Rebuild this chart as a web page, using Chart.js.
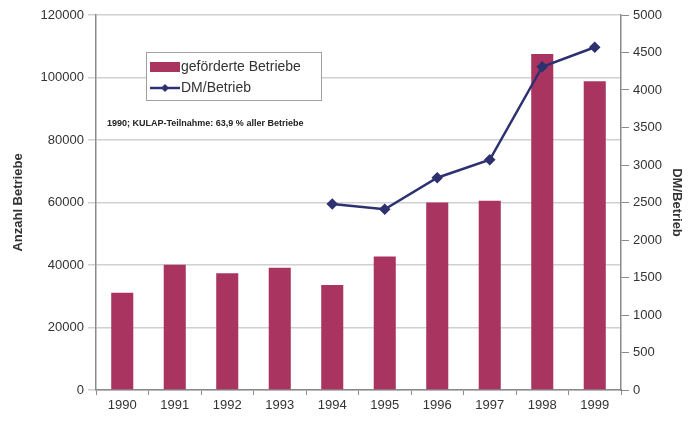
<!DOCTYPE html>
<html>
<head>
<meta charset="utf-8">
<script src="https://cdn.jsdelivr.net/npm/chart.js@4"></script>
<style>
    body { margin: 0; background: #fff; }
    #wrap { width: 688px; height: 421px; }
</style>
</head>
<body>
<div id="wrap"><canvas id="chart"></canvas></div>
<script>
const years = ["1990", "1991", "1992", "1993", "1994", "1995", "1996", "1997", "1998", "1999"];
const betriebe = [31100, 40100, 37400, 39100, 33600, 42700, 60000, 60600, 107500, 98800];
const dmProBetrieb = [null, null, null, null, 2480, 2410, 2830, 3070, 4310, 4570];
const leftTicks = [0, 20000, 40000, 60000, 80000, 100000, 120000];
const rightTicks = [0, 500, 1000, 1500, 2000, 2500, 3000, 3500, 4000, 4500, 5000];
const noteText = "1990; KULAP-Teilnahme: 63,9 % aller Betriebe";

const barColor = "#a8345f";
const lineColor = "#2e3170";
const axisColor = "#8a8a8a";
const textColor = "#333333";
const font = "Liberation Sans, Arial, sans-serif";

const overlayPlugin = {
    id: "overlay",
    afterDraw(chart) {
        const ctx = chart.ctx;
        ctx.save();

        // legend box
        ctx.fillStyle = "#ffffff";
        ctx.fillRect(146, 52, 175, 48);
        ctx.strokeStyle = "#a0a0a0";
        ctx.lineWidth = 1;
        ctx.strokeRect(146.5, 52.5, 175, 48);

        ctx.fillStyle = barColor;
        ctx.fillRect(150, 62, 30, 10);

        ctx.strokeStyle = lineColor;
        ctx.lineWidth = 2.5;
        ctx.beginPath();
        ctx.moveTo(150, 88);
        ctx.lineTo(180, 88);
        ctx.stroke();
        ctx.fillStyle = lineColor;
        ctx.beginPath();
        ctx.moveTo(165, 84);
        ctx.lineTo(169, 88);
        ctx.lineTo(165, 92);
        ctx.lineTo(161, 88);
        ctx.closePath();
        ctx.fill();

        ctx.fillStyle = textColor;
        ctx.font = `14px ${font}`;
        ctx.textBaseline = "middle";
        ctx.fillText("geförderte Betriebe", 181, 67);
        ctx.fillText("DM/Betrieb", 181, 88);

        // note
        ctx.font = `bold 9px ${font}`;
        ctx.fillStyle = "#222";
        ctx.fillText(noteText, 107, 124, 242);

        ctx.restore();
    },
};

const plainTick = (value) => String(value);

new Chart(document.getElementById("chart"), {
    data: {
        labels: years,
        datasets: [
            {
                type: "line",
                label: "DM/Betrieb",
                data: dmProBetrieb,
                yAxisID: "y1",
                borderColor: lineColor,
                backgroundColor: lineColor,
                borderWidth: 2.5,
                pointStyle: "rectRot",
                pointRadius: 4,
                tension: 0,
                spanGaps: false,
            },
            {
                type: "bar",
                label: "geförderte Betriebe",
                data: betriebe,
                yAxisID: "y",
                backgroundColor: barColor,
                barPercentage: 0.42,
                categoryPercentage: 1,
            },
        ],
    },
    options: {
        responsive: true,
        maintainAspectRatio: false,
        animation: false,
        layout: { padding: { top: 15, left: 0, right: 0, bottom: 0 } },
        plugins: {
            legend: { display: false },
            tooltip: { enabled: false },
        },
        scales: {
            x: {
                offset: true,
                grid: {
                    offset: true,
                    drawOnChartArea: false,
                    color: axisColor,
                    tickLength: 5,
                },
                border: { color: axisColor, width: 1.5 },
                ticks: { color: textColor, font: { family: font, size: 13 }, padding: 3 },
                afterFit(scale) { scale.height = 31; },
            },
            y: {
                position: "left",
                min: 0,
                max: 120000,
                afterBuildTicks(scale) { scale.ticks = leftTicks.map((v) => ({ value: v })); },
                grid: { color: "#d0d0d0", lineWidth: 1.5, tickLength: 8 },
                border: { color: axisColor, width: 1.5 },
                ticks: { color: textColor, font: { family: font, size: 13 }, padding: 4, callback: plainTick },
                title: {
                    display: true,
                    text: "Anzahl Betriebe",
                    color: textColor,
                    font: { family: font, size: 13, weight: "bold" },
                    padding: { top: 11, bottom: 2 },
                },
                afterFit(scale) { scale.width = 96; },
            },
            y1: {
                position: "right",
                min: 0,
                max: 5000,
                afterBuildTicks(scale) { scale.ticks = rightTicks.map((v) => ({ value: v })); },
                grid: { drawOnChartArea: false, color: axisColor, tickLength: 8 },
                border: { color: axisColor, width: 1.5 },
                ticks: { color: textColor, font: { family: font, size: 13 }, padding: 4, callback: plainTick },
                title: {
                    display: true,
                    text: "DM/Betrieb",
                    color: textColor,
                    font: { family: font, size: 13, weight: "bold" },
                    padding: { top: 4, bottom: 4 },
                },
                afterFit(scale) { scale.width = 67; },
            },
        },
    },
    plugins: [overlayPlugin],
});
</script>
</body>
</html>
